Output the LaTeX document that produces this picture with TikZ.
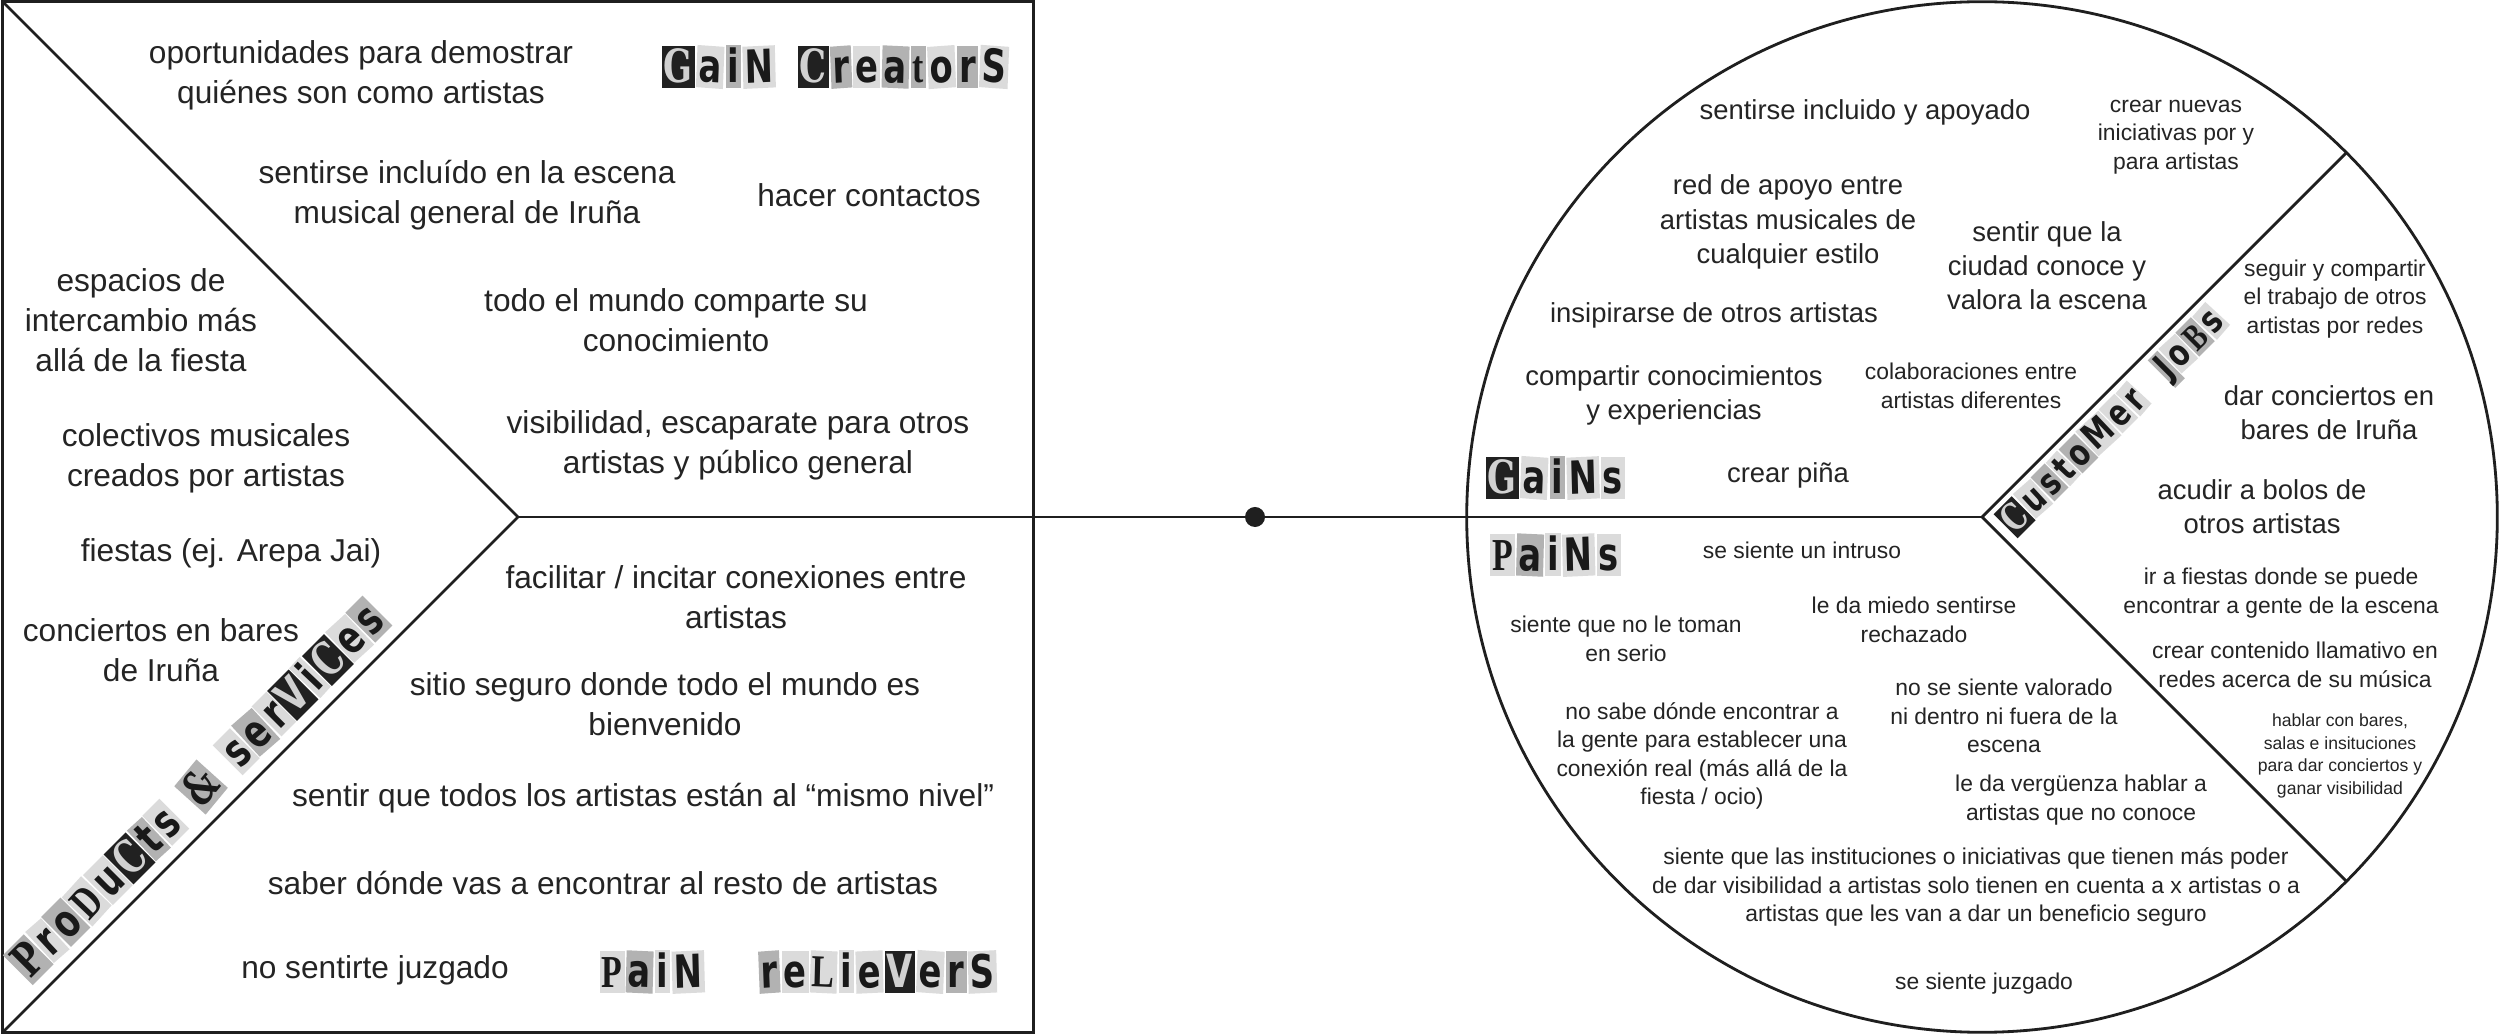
\documentclass[tikz,border=0pt]{standalone}
\usepackage{fontspec}
\setmainfont{Liberation Sans}
\newfontfamily\cutsans{DejaVu Sans}
\newfontfamily\cutserif{DejaVu Serif}
\newfontfamily\cutlib{Liberation Serif}
\definecolor{lin}{gray}{0.12}
\definecolor{txt}{gray}{0.14}
\definecolor{papl}{gray}{0.86}
\definecolor{papm}{gray}{0.70}
\definecolor{papd}{gray}{0.13}
\definecolor{inkd}{gray}{0.10}
\definecolor{inkl}{gray}{0.82}
\newcommand{\cutl}[4]{\colorbox{#1}{\color{#2}#3\bfseries\rule[-0.06em]{0pt}{0.8em}#4}\hspace{0.4pt}}
\newcommand{\cutt}[5]{\rotatebox[origin=c]{#1}{\cutl{#2}{#3}{#4}{#5}}}
\begin{document}
\begin{tikzpicture}[x=0.01cm,y=-0.01cm,
  every node/.style={inner sep=0pt, outer sep=0pt, text=txt},
  txtbig/.style={align=center,font=\fontsize{9}{11.4}\selectfont},
  txtmid/.style={align=center,font=\fontsize{7.8}{9.7}\selectfont},
  txtsmall/.style={align=center,font=\fontsize{6.5}{8.1}\selectfont},
  txttiny/.style={align=center,font=\fontsize{5}{6.5}\selectfont},
  cutout/.style={font=\setlength{\fboxsep}{0.8pt}\fontsize{13}{14}\selectfont},
  cutsmall/.style={font=\setlength{\fboxsep}{0.6pt}\fontsize{10.5}{11}\selectfont},
  edgeline/.style={draw=lin, line width=0.8pt}]
\useasboundingbox (0,0) rectangle (2500,1034);
\fill[white] (0,0) rectangle (2500,1034);

% value map box
\node[edgeline, minimum width=10.3cm, minimum height=10.3cm] (vp) at (518,517) {};
\draw[edgeline] (vp.north west) -- (vp.center) -- (vp.south west);
% customer profile circle
\node[circle, edgeline, minimum size=10.3cm] (cp) at (1982,517) {};
\draw[edgeline] (vp.center) -- (cp.center);
\draw[edgeline] (cp.north east) -- (cp.center) -- (cp.south east);
\node[circle, fill=lin, minimum size=0.2cm] (hub) at (1255,517) {};

% cut-out labels
\node[cutout] (lgc) at (836,67) {\scalebox{0.74}[1]{%
\cutl{papd}{inkl}{\cutserif}{G}\cutt{-3}{papl}{inkd}{\cutsans}{a}\cutl{papm}{inkd}{\cutsans}{i}\cutt{2}{papl}{inkd}{\cutsans}{N}\hspace{8pt}%
\cutl{papd}{inkl}{\cutserif}{C}\cutt{3}{papm}{inkd}{\cutsans}{r}\cutl{papl}{inkd}{\cutsans}{e}\cutt{-2}{papm}{inkd}{\cutsans}{a}\cutl{papm}{inkd}{\cutlib}{t}\cutt{3}{papl}{inkd}{\cutsans}{o}\cutl{papm}{inkd}{\cutsans}{r}\cutt{-3}{papl}{inkd}{\cutsans}{S}}};

\node[cutout] (lpr) at (799,972) {\scalebox{0.74}[1]{%
\cutl{papl}{inkd}{\cutlib}{P}\cutt{-2}{papm}{inkd}{\cutsans}{a}\cutl{papl}{inkd}{\cutsans}{i}\cutt{2}{papl}{inkd}{\cutsans}{N}\hspace{20pt}%
\cutt{3}{papm}{inkd}{\cutsans}{r}\cutl{papl}{inkd}{\cutsans}{e}\cutt{-2}{papl}{inkd}{\cutlib}{L}\cutl{papl}{inkd}{\cutsans}{i}\cutt{2}{papl}{inkd}{\cutsans}{e}\cutl{papd}{inkl}{\cutsans}{V}\cutt{-3}{papl}{inkd}{\cutsans}{e}\cutl{papm}{inkd}{\cutsans}{r}\cutt{2}{papl}{inkd}{\cutsans}{S}}};

\node[cutout, rotate=45] (lps) at (198,790) {\scalebox{0.74}[1]{%
\cutl{papm}{inkd}{\cutserif}{P}\cutt{-3}{papl}{inkd}{\cutsans}{r}\cutl{papm}{inkd}{\cutsans}{o}\cutt{2}{papl}{inkd}{\cutlib}{D}\cutl{papl}{inkd}{\cutsans}{u}\cutl{papd}{inkl}{\cutserif}{C}\cutt{-2}{papm}{inkd}{\cutsans}{t}\cutl{papl}{inkd}{\cutsans}{s}\hspace{7pt}%
\cutt{4}{papm}{inkd}{\cutserif}{\&}\hspace{7pt}%
\cutl{papl}{inkd}{\cutsans}{s}\cutt{-3}{papm}{inkd}{\cutsans}{e}\cutl{papl}{inkd}{\cutsans}{r}\cutl{papd}{inkl}{\cutsans}{V}\cutt{2}{papl}{inkd}{\cutsans}{i}\cutl{papd}{inkl}{\cutserif}{C}\cutt{-2}{papl}{inkd}{\cutsans}{e}\cutl{papm}{inkd}{\cutsans}{s}}};

\node[cutout] (lga) at (1556,478) {\scalebox{0.74}[1]{%
\cutl{papd}{inkl}{\cutserif}{G}\cutt{-3}{papl}{inkd}{\cutsans}{a}\cutl{papm}{inkd}{\cutsans}{i}\cutt{2}{papl}{inkd}{\cutsans}{N}\cutl{papl}{inkd}{\cutsans}{s}}};

\node[cutout] (lpa) at (1556,555) {\scalebox{0.74}[1]{%
\cutl{papl}{inkd}{\cutlib}{P}\cutt{-2}{papm}{inkd}{\cutsans}{a}\cutl{papl}{inkd}{\cutsans}{i}\cutt{2}{papl}{inkd}{\cutsans}{N}\cutl{papl}{inkd}{\cutsans}{s}}};

\node[cutsmall, rotate=45] (lcj) at (2114,421) {\scalebox{0.76}[1]{%
\cutl{papd}{inkl}{\cutserif}{C}\cutt{-3}{papl}{inkd}{\cutsans}{u}\cutl{papm}{inkd}{\cutsans}{s}\cutt{2}{papl}{inkd}{\cutsans}{t}\cutl{papm}{inkd}{\cutsans}{o}\cutt{-2}{papl}{inkd}{\cutsans}{M}\cutl{papl}{inkd}{\cutsans}{e}\cutt{3}{papl}{inkd}{\cutsans}{r}\hspace{10pt}%
\cutl{papm}{inkd}{\cutsans}{J}\cutt{-2}{papl}{inkd}{\cutsans}{o}\cutl{papm}{inkd}{\cutlib}{B}\cutt{3}{papl}{inkd}{\cutsans}{s}}};

% gain creators
\node[txtbig] (g1) at (361,75) {oportunidades para demostrar\\quiénes son como artistas};
\node[txtbig] (g2) at (467,195) {sentirse incluído en la escena\\musical general de Iruña};
\node[txtbig] (g3) at (869,195) {hacer contactos};
\node[txtbig] (g4) at (676,320) {todo el mundo comparte su\\conocimiento};
\node[txtbig] (g5) at (738,445) {visibilidad, escaparate para otros\\artistas y público general};
% products & services
\node[txtbig] (p1) at (141,320) {espacios de\\intercambio más\\allá de la fiesta};
\node[txtbig] (p2) at (206,458) {colectivos musicales\\creados por artistas};
\node[txtbig] (p3) at (231,553) {fiestas (ej. Arepa Jai)};
\node[txtbig] (p4) at (161,650) {conciertos en bares\\de Iruña};
% pain relievers
\node[txtbig] (r1) at (736,597) {facilitar / incitar conexiones entre\\artistas};
\node[txtbig] (r2) at (665,704) {sitio seguro donde todo el mundo es\\bienvenido};
\node[txtbig] (r3) at (643,798) {sentir que todos los artistas están al “mismo nivel”};
\node[txtbig] (r4) at (603,883) {saber dónde vas a encontrar al resto de artistas};
\node[txtbig] (r5) at (375,970) {no sentirte juzgado};

% gains
\node[txtmid] (a1) at (1865,112) {sentirse incluido y apoyado};
\node[txtsmall] (a2) at (2176,137) {crear nuevas\\iniciativas por y\\para artistas};
\node[txtmid] (a3) at (1788,222) {red de apoyo entre\\artistas musicales de\\cualquier estilo};
\node[txtmid] (a4) at (2047,266) {sentir que la\\ciudad conoce y\\valora la escena};
\node[txtmid] (a5) at (1714,315) {insipirarse de otros artistas};
\node[txtmid] (a6) at (1674,395) {compartir conocimientos\\y experiencias};
\node[txtsmall] (a7) at (1971,386) {colaboraciones entre\\artistas diferentes};
\node[txtmid] (a8) at (1788,475) {crear piña};

% customer jobs
\node[txtsmall] (j1) at (2335,299) {seguir y compartir\\el trabajo de otros\\artistas por redes};
\node[txtmid] (j2) at (2329,413) {dar conciertos en\\bares de Iruña};
\node[txtmid] (j3) at (2262,507) {acudir a bolos de\\otros artistas};
\node[txtsmall] (j4) at (2281,593) {ir a fiestas donde se puede\\encontrar a gente de la escena};
\node[txtsmall] (j5) at (2295,665) {crear contenido llamativo en\\redes acerca de su música};
\node[txttiny] (j6) at (2340,756) {hablar con bares,\\salas e insituciones\\para dar conciertos y\\ganar visibilidad};

% pains
\node[txtsmall] (s1) at (1802,550) {se siente un intruso};
\node[txtsmall] (s2) at (1626,639) {siente que no le toman\\en serio};
\node[txtsmall] (s3) at (1914,620) {le da miedo sentirse\\rechazado};
\node[txtsmall] (s4) at (1702,756) {no sabe dónde encontrar a\\la gente para establecer una\\conexión real (más allá de la\\fiesta / ocio)};
\node[txtsmall] (s5) at (2004,716) {no se siente valorado\\ni dentro ni fuera de la\\escena};
\node[txtsmall] (s6) at (2081,800) {le da vergüenza hablar a\\artistas que no conoce};
\node[txtsmall] (s7) at (1976,887) {siente que las instituciones o iniciativas que tienen más poder\\de dar visibilidad a artistas solo tienen en cuenta a x artistas o a\\artistas que les van a dar un beneficio seguro};
\node[txtsmall] (s8) at (1984,984) {se siente juzgado};
\end{tikzpicture}
\end{document}
